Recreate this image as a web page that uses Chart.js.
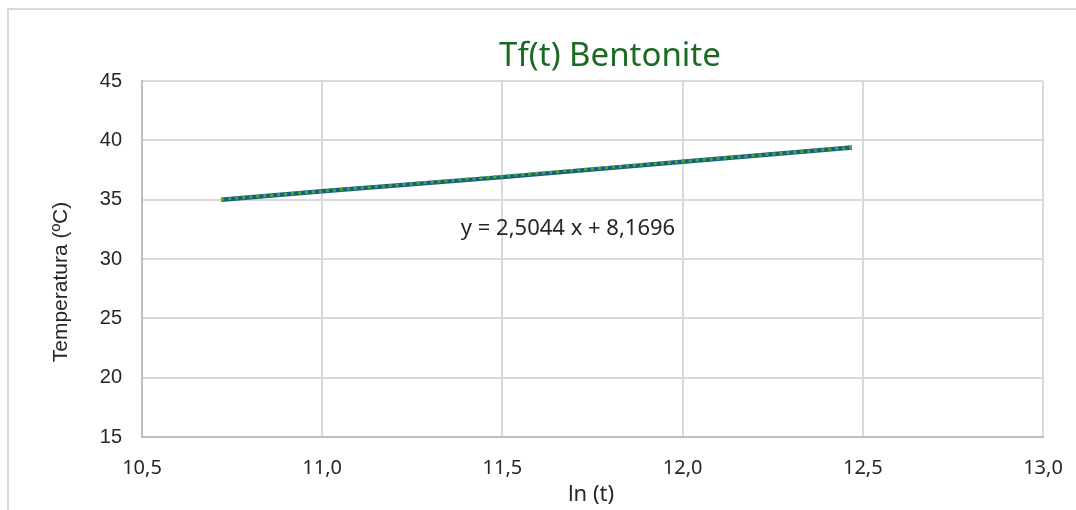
<!DOCTYPE html>
<html>
<head>
<meta charset="utf-8">
<script src="https://cdn.jsdelivr.net/npm/chart.js@4"></script>
<style>
  body { margin:0; background:#fff; }
  #frame { position:absolute; left:7px; top:8px; width:1080px; height:520px; border-left:2px solid #d9d9d9; border-top:2px solid #d9d9d9; }
  #wrap { position:absolute; left:0; top:0; width:1076px; height:510px; }
</style>
</head>
<body>
<div id="frame"></div>
<div id="wrap"><canvas id="c" width="1076" height="510"></canvas></div>
<script>
// measured series, ln(t) vs temperature
const lnT   = [10.72, 11.0, 11.5, 12.0, 12.47];
const tempC = [35.0, 35.7, 36.9, 38.2, 39.4];
// trendline end points, y = 2,5044 x + 8,1696
const trendX = [10.72, 12.47];
const trendY = [35.02, 39.40];
const xTicks = [10.5, 11.0, 11.5, 12.0, 12.5, 13.0];
const yTicks = [15, 20, 25, 30, 35, 40, 45];

const pts = (xs, ys) => xs.map((x, i) => ({ x, y: ys[i] }));

const labels = {
  id: "labels",
  afterDraw(ch) {
    const c = ch.ctx;
    c.save();
    c.textAlign = "center";
    c.textBaseline = "middle";
    c.fillStyle = "#196B24";
    c.font = "33px 'Noto Sans'";
    c.fillText("Tf(t) Bentonite", 610, 57);
    c.fillStyle = "#262626";
    c.font = "22px 'Noto Sans'";
    c.fillText("y = 2,5044 x + 8,1696", 568, 229);
    c.fillText("ln (t)", 591, 495);
    c.translate(61, 282);
    c.rotate(-Math.PI / 2);
    c.font = "21px 'Liberation Sans'";
    c.fillText("Temperatura (ºC)", 0, 0);
    c.restore();
  }
};

new Chart(document.getElementById("c"), {
  type: "scatter",
  data: {
    datasets: [
      { data: pts(lnT, tempC), order: 1, showLine: true, borderColor: "#156082", borderWidth: 4.5, pointRadius: 0 },
      { data: pts(trendX, trendY), order: 0, showLine: true, borderColor: "#4EA72E", borderWidth: 3, borderDash: [3, 4], pointRadius: 0 }
    ]
  },
  options: {
    responsive: false,
    animation: false,
    layout: { padding: { top: 81, right: 33, left: 0, bottom: 0 } },
    plugins: { legend: { display: false }, tooltip: { enabled: false } },
    scales: {
      x: {
        type: "linear", min: 10.5, max: 13,
        afterBuildTicks: s => { s.ticks = xTicks.map(v => ({ value: v })); },
        afterFit: s => { s.height = 73; s.paddingLeft = 0; s.paddingRight = 0; },
        grid: { color: "#d9d9d9", lineWidth: 2, drawTicks: false },
        border: { color: "#bfbfbf", width: 2 },
        ticks: { padding: 19, color: "#262626", font: { family: "Noto Sans", size: 20 }, callback: v => v.toFixed(1).replace(".", ","), maxRotation: 0 }
      },
      y: {
        min: 15, max: 45,
        afterBuildTicks: s => { s.ticks = yTicks.map(v => ({ value: v })); },
        afterFit: s => { s.width = 142; s.paddingTop = 0; s.paddingBottom = 0; },
        grid: { color: "#d9d9d9", lineWidth: 2, drawTicks: false },
        border: { color: "#bfbfbf", width: 2 },
        ticks: { padding: 20, color: "#262626", font: { family: "Liberation Sans", size: 20 } }
      }
    }
  },
  plugins: [labels]
});
</script>
</body>
</html>
